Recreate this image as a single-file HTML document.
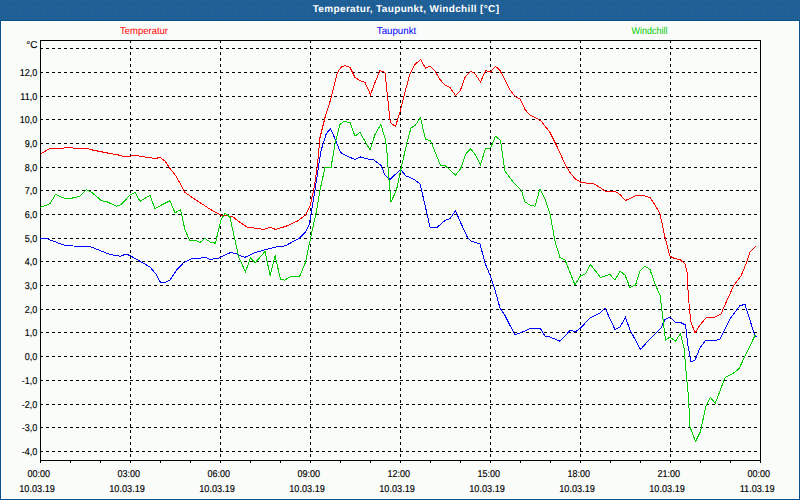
<!DOCTYPE html>
<html><head><meta charset="utf-8"><style>
html,body{margin:0;padding:0;width:800px;height:500px;overflow:hidden;background:#fafcfa}
svg{display:block}
text{font-family:"Liberation Sans",sans-serif;text-rendering:geometricPrecision}
</style></head><body>
<svg width="800" height="500" viewBox="0 0 800 500">
<rect x="0" y="0" width="800" height="500" fill="#07508a"/>
<defs><pattern id="dith" width="24" height="12" patternUnits="userSpaceOnUse"><rect width="24" height="12" fill="#1e5e91"/><g fill="#2865b4"><rect x="10" y="2" width="1" height="1"/><rect x="12" y="10" width="1" height="1"/><rect x="1" y="1" width="1" height="1"/><rect x="17" y="1" width="1" height="1"/><rect x="1" y="8" width="1" height="1"/><rect x="6" y="0" width="1" height="1"/><rect x="2" y="6" width="1" height="1"/><rect x="13" y="1" width="1" height="1"/><rect x="17" y="6" width="1" height="1"/><rect x="3" y="3" width="1" height="1"/><rect x="20" y="10" width="1" height="1"/><rect x="18" y="9" width="1" height="1"/><rect x="9" y="6" width="1" height="1"/><rect x="4" y="8" width="1" height="1"/><rect x="9" y="8" width="1" height="1"/><rect x="21" y="2" width="1" height="1"/><rect x="6" y="5" width="1" height="1"/><rect x="19" y="3" width="1" height="1"/><rect x="15" y="10" width="1" height="1"/><rect x="11" y="4" width="1" height="1"/><rect x="7" y="2" width="1" height="1"/><rect x="15" y="5" width="1" height="1"/><rect x="23" y="7" width="1" height="1"/><rect x="22" y="5" width="1" height="1"/><rect x="19" y="7" width="1" height="1"/><rect x="22" y="10" width="1" height="1"/><rect x="9" y="10" width="1" height="1"/><rect x="19" y="1" width="1" height="1"/><rect x="15" y="0" width="1" height="1"/><rect x="4" y="11" width="1" height="1"/><rect x="12" y="7" width="1" height="1"/><rect x="17" y="4" width="1" height="1"/><rect x="4" y="6" width="1" height="1"/><rect x="4" y="1" width="1" height="1"/><rect x="7" y="10" width="1" height="1"/><rect x="9" y="0" width="1" height="1"/><rect x="21" y="8" width="1" height="1"/><rect x="1" y="3" width="1" height="1"/><rect x="15" y="7" width="1" height="1"/><rect x="7" y="8" width="1" height="1"/></g></pattern></defs>
<rect x="0" y="0" width="800" height="20" fill="url(#dith)" shape-rendering="crispEdges"/>
<rect x="1" y="21" width="798" height="478" fill="#ffffff"/>
<rect x="2" y="22" width="796" height="476" fill="#fafcfa"/>
<text x="406" y="12" text-anchor="middle" font-size="10" font-weight="bold" letter-spacing="0.35" fill="#ffffff">Temperatur, Taupunkt, Windchill [°C]</text>
<g font-size="10" stroke="currentColor" stroke-width="0.15">
<text transform="translate(144,34) scale(0.95,1)" text-anchor="middle" fill="#ff0000" stroke="none">Temperatur</text>
<text transform="translate(396.5,34) scale(0.97,1)" text-anchor="middle" fill="#0000ff" stroke="none">Taupunkt</text>
<text transform="translate(649.4,34) scale(0.9,1)" text-anchor="middle" fill="#00cc00" stroke="none">Windchill</text>
<text transform="translate(37.5,48) scale(1,1)" text-anchor="end">°C</text><text transform="translate(37.2,76) scale(0.9,1)" text-anchor="end">12,0</text><text transform="translate(37.2,100) scale(0.9,1)" text-anchor="end">11,0</text><text transform="translate(37.2,123) scale(0.9,1)" text-anchor="end">10,0</text><text transform="translate(37.2,147) scale(0.9,1)" text-anchor="end">9,0</text><text transform="translate(37.2,171) scale(0.9,1)" text-anchor="end">8,0</text><text transform="translate(37.2,194) scale(0.9,1)" text-anchor="end">7,0</text><text transform="translate(37.2,218) scale(0.9,1)" text-anchor="end">6,0</text><text transform="translate(37.2,242) scale(0.9,1)" text-anchor="end">5,0</text><text transform="translate(37.2,265) scale(0.9,1)" text-anchor="end">4,0</text><text transform="translate(37.2,289) scale(0.9,1)" text-anchor="end">3,0</text><text transform="translate(37.2,313) scale(0.9,1)" text-anchor="end">2,0</text><text transform="translate(37.2,336) scale(0.9,1)" text-anchor="end">1,0</text><text transform="translate(37.2,360) scale(0.9,1)" text-anchor="end">0,0</text><text transform="translate(37.2,384) scale(0.9,1)" text-anchor="end">-1,0</text><text transform="translate(37.2,408) scale(0.9,1)" text-anchor="end">-2,0</text><text transform="translate(37.2,431) scale(0.9,1)" text-anchor="end">-3,0</text><text transform="translate(37.2,455) scale(0.9,1)" text-anchor="end">-4,0</text>
<text transform="translate(38.8,477) scale(0.9,1)" text-anchor="middle">00:00</text><text transform="translate(37.1,492) scale(0.915,1)" text-anchor="middle">10.03.19</text><text transform="translate(128.8,477) scale(0.9,1)" text-anchor="middle">03:00</text><text transform="translate(127.1,492) scale(0.915,1)" text-anchor="middle">10.03.19</text><text transform="translate(218.8,477) scale(0.9,1)" text-anchor="middle">06:00</text><text transform="translate(217.1,492) scale(0.915,1)" text-anchor="middle">10.03.19</text><text transform="translate(308.8,477) scale(0.9,1)" text-anchor="middle">09:00</text><text transform="translate(307.1,492) scale(0.915,1)" text-anchor="middle">10.03.19</text><text transform="translate(398.8,477) scale(0.9,1)" text-anchor="middle">12:00</text><text transform="translate(397.1,492) scale(0.915,1)" text-anchor="middle">10.03.19</text><text transform="translate(488.8,477) scale(0.9,1)" text-anchor="middle">15:00</text><text transform="translate(487.1,492) scale(0.915,1)" text-anchor="middle">10.03.19</text><text transform="translate(578.8,477) scale(0.9,1)" text-anchor="middle">18:00</text><text transform="translate(577.1,492) scale(0.915,1)" text-anchor="middle">10.03.19</text><text transform="translate(668.8,477) scale(0.9,1)" text-anchor="middle">21:00</text><text transform="translate(667.1,492) scale(0.915,1)" text-anchor="middle">10.03.19</text><text transform="translate(758.8,477) scale(0.9,1)" text-anchor="middle">00:00</text><text transform="translate(757.1,492) scale(0.915,1)" text-anchor="middle">11.03.19</text>
</g>
<g shape-rendering="crispEdges" fill="none" stroke-width="1">
<path d="M40 48.5H760M40 72.5H760M40 96.5H760M40 119.5H760M40 143.5H760M40 167.5H760M40 190.5H760M40 214.5H760M40 238.5H760M40 261.5H760M40 285.5H760M40 309.5H760M40 332.5H760M40 356.5H760M40 380.5H760M40 404.5H760M40 427.5H760M40 451.5H760M130.5 40V460M220.5 40V460M310.5 40V460M400.5 40V460M490.5 40V460M580.5 40V460M670.5 40V460" stroke="#000" stroke-dasharray="3 3"/>
<path d="M40.5 40V460.5M40 40.5H760.5V460M40 460.5H760.5M40.5 460V463M70.5 460V463M100.5 460V463M130.5 460V463M160.5 460V463M190.5 460V463M220.5 460V463M250.5 460V463M280.5 460V463M310.5 460V463M340.5 460V463M370.5 460V463M400.5 460V463M430.5 460V463M460.5 460V463M490.5 460V463M520.5 460V463M550.5 460V463M580.5 460V463M610.5 460V463M640.5 460V463M670.5 460V463M700.5 460V463M730.5 460V463M760.5 460V463" stroke="#000"/>
<polyline points="41,153.5 50,148.5 63,148.5 64.5,147.5 72.5,147.5 74,148.5 87.5,148.5 92.5,150 98.75,151.25 103.75,152.25 110,153.5 117.5,154.75 123,156.25 130,156.25 133,155.25 136.25,155.25 140,156.25 155,158.5 160,157.5 165,161 170,168.5 176,176 185,192.5 197.5,201 207.5,207.5 211.4,210 221,215 232.5,216.5 239,221.7 247.9,227.5 256.9,228.2 263.4,229.5 270.2,227.1 275.6,229.5 286,226.25 297.5,221 305.6,215 310,206 313.75,190 317.5,165 320,137.5 325,117.5 331.25,97.5 337.5,72.5 341.25,67 345,65.5 350,67.5 355,77.5 360,80.5 365,82.5 370.5,94.5 375,82.5 380,70.5 385,72.5 390,120 391.25,123.75 395.5,126.25 400,112 405,92 410,73.75 415,64.5 420.5,59.5 425.5,68 430,66.25 435,71.25 440,79.5 445,85 450,87.5 455.5,95.5 460,91.25 465.5,76.25 470.5,71.25 475,73.75 480.5,82 485.5,70.5 490.5,72 495.5,66.25 500,70.5 505,80 510,90 515,96.25 520.5,99.5 525,109.5 530,115 536.25,118 541.25,121.25 550,132.5 557.5,147.5 565,164 570,172.5 575,178.75 581.25,182.5 593.75,183.75 600,187.5 606.25,192 615,191.25 620,194.5 625.5,200.5 636.25,195.5 641.25,195 650,197.5 655,205 660,213.75 665,237.5 670,256.25 675,258.75 680,259.5 685,264 687,272 688,290 689.5,310 691,322 695,333 700,325 706,318 715,317 721,314 728,298 734,285 741,276 746,264 750,252 755.5,246.5" stroke="#ff0000"/>
<polyline points="40,238 46.25,238.5 65,245.5 77.5,246.25 91.25,247 110,254.5 120,256.25 126.25,254 131.25,256.25 140,261.25 150,267 156.25,274.5 160.5,282.5 165,282.5 170,280 176.25,270.5 183.75,262.5 191.25,258.75 200,258.2 205,257.2 210,259.3 217.9,258.4 230.9,252.3 236,253.75 244.7,257.4 255.25,252.6 266.5,249.3 274.75,247.2 285,245.9 299,238.5 305.3,232.2 309.2,224.6 310.5,217.5 315,190 318.75,165 321.25,150 326.25,133.75 330.5,128.75 335,138.75 340.5,152.5 347.5,156.25 355,159.5 360.5,157 366.25,158.75 373.75,160 381,165.5 385,175 390,179.5 400.5,169.5 406,176 410,177.5 415,180 420,183.75 425,205 430,227 437.5,227 445,220.5 450,218.75 455.5,210.5 460,221.25 467.5,237.5 471.25,241.25 480,243.75 485,263 490,275 495,290 500,308 505,315.5 510,325.5 515,334.5 520,333 530,328.75 540.5,328.75 545,336.25 550,337 560,341.25 570,330.5 576,331.5 581,327.5 590,318 600,313 605,308 615,329.5 620,327 625.5,317.5 630,330 640.5,349.5 650,338.75 660.5,328.75 665,319.5 670,317 675.5,322.5 680.5,322.5 685.5,325 688,346 691,362 695,360 700,348 705,341 709,340 714,341 720,339 730,318.75 740,305.5 745,304.5 754.5,334.5 756.25,337" stroke="#0000ff"/>
<polyline points="40,207.5 50,203.75 55.5,194.5 63.75,198 72.5,198 80,196.25 86.25,189.5 92.5,193 101.25,200.5 107.5,202 116.25,206.25 121.25,204.5 130,195 135,192.5 140,201.25 150,195.5 155,208.75 162.5,204.5 170,200.75 175,213 180.5,209.5 185,230 190,241 195,240 200,242.3 205,238.5 210.6,242.2 215.4,243.2 221,219.75 225.2,213 230,217.5 239,258 245.5,271.75 250.4,258 255.2,262.8 265,251.4 270.2,275.8 275.1,255.5 280.4,279.1 284.5,280.2 291,276.3 299.4,277 305.6,262 311.3,234.4 316.25,212.5 320,190 325,167.5 331,167.5 335,144 340,124.5 344,121.5 350,122.5 355,136.25 360,132.5 370,150 375,134.5 380.8,124.5 385,138 386.7,148.8 388.5,174 391,202 396.5,190 401,168.6 407,142.5 411,128 415.5,125 420.5,117.5 425.5,139.5 430.5,140.5 440.5,165.5 445,165.5 455.5,175 460.5,169 466,153.6 470.5,148.75 475.5,155 480.5,164.5 485.5,148.75 490.5,148 495.5,136.25 500.5,140.5 505,171.25 512.5,181.25 521.25,190 525,202 530,205 535,206.25 540,188.75 545,198.75 550,213.75 555,241.25 560,257.5 565,260 575,285 580,276.25 585.5,273.75 590.5,264.5 600.5,277.5 610,274.5 615,280 620,271.25 625,275 630,287.5 635.5,285 640,271.25 645,266.25 650,269.5 655,284 660,295 662.5,315 665.5,340 670,337 675.5,341.25 680.5,333.5 684,348 687,382 688.3,395 690,426.7 695.5,441.4 700.4,431.7 705.8,406.5 710.3,397.5 715.3,403.2 725,377.7 733.7,373 739.1,368.6 745,356.25 755,335.5 756.25,335" stroke="#00cc00"/>
</g>
</svg>
</body></html>
